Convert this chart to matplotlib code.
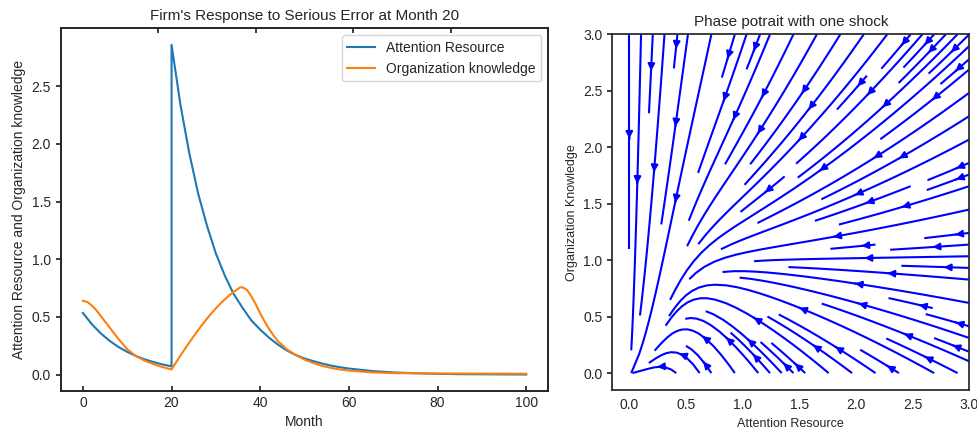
import numpy as np
import matplotlib.pyplot as plt

plt.rcParams['font.family'] = ['Liberation Sans', 'DejaVu Sans']
plt.rcParams['font.size'] = 10
plt.rcParams['text.color'] = '.15'
plt.rcParams['axes.labelcolor'] = '.15'
plt.rcParams['xtick.color'] = '.15'
plt.rcParams['ytick.color'] = '.15'
plt.rcParams['axes.edgecolor'] = '.15'
plt.rcParams['axes.linewidth'] = 1.25

# attention resource path (shock at month 20 gives the vertical jump)
month_attention = [0, 2, 4, 6, 8, 10, 12, 14, 16, 18, 20,
                   20, 22, 24, 26, 28, 30, 32, 34, 36, 38, 40, 42, 44, 46, 48,
                   50, 52, 54, 56, 58, 60, 65, 70, 75, 80, 85, 90, 95, 100]
attention = [0.535, 0.438, 0.359, 0.294, 0.240, 0.197, 0.161, 0.132, 0.108, 0.088, 0.072,
             2.86, 2.34, 1.92, 1.57, 1.29, 1.05, 0.86, 0.70, 0.58, 0.47, 0.39, 0.32, 0.26, 0.21, 0.17,
             0.14, 0.117, 0.096, 0.078, 0.064, 0.053, 0.032, 0.019, 0.012, 0.007, 0.004, 0.003, 0.002, 0.001]

# organization knowledge path
month_knowledge = [0, 1, 2, 3, 4, 5, 6, 7, 8, 10, 12, 14, 16, 18, 20,
                   21, 22, 23, 24, 25, 26, 27, 28, 29, 30, 31, 32, 33, 34, 35, 35.5, 36, 37,
                   38, 39, 40, 41, 42, 43, 44, 46, 48, 50, 52, 54, 56, 58, 60, 65, 70, 80, 90, 100]
knowledge = [0.64, 0.63, 0.60, 0.56, 0.51, 0.46, 0.41, 0.36, 0.31, 0.22, 0.16, 0.12, 0.09, 0.065, 0.045,
             0.105, 0.165, 0.222, 0.278, 0.333, 0.386, 0.437, 0.486, 0.532, 0.575, 0.615, 0.652, 0.687, 0.717, 0.745, 0.757, 0.757, 0.735,
             0.68, 0.61, 0.53, 0.46, 0.395, 0.34, 0.29, 0.22, 0.17, 0.13, 0.10, 0.075, 0.058, 0.045, 0.035, 0.02, 0.013, 0.01, 0.009, 0.008]

# parameters of the attention / knowledge system for the phase portrait
decay_attention = 0.1
rate_knowledge = 0.15
half_point = 0.55
hill_power = 4

fig = plt.figure(figsize=(9.78, 4.32), dpi=100)

ax1 = fig.add_axes([0.0621, 0.0949, 0.4986, 0.8396])
ax1.plot(month_attention, attention, label='Attention Resource', linewidth=1.5)
ax1.plot(month_knowledge, knowledge, label='Organization knowledge', linewidth=1.5)
ax1.set_title("Firm's Response to Serious Error at Month 20", fontsize=11)
ax1.set_xlabel('Month')
ax1.set_ylabel('Attention Resource and Organization knowledge')
ax1.set_yticks([0.0, 0.5, 1.0, 1.5, 2.0, 2.5])
ax1.tick_params(axis='x', direction='in', length=3.5, width=1.25)
ax1.tick_params(axis='y', direction='out', length=3.5, width=1.25)
ax1.legend(loc='upper right', edgecolor='0.8')

top = ax1.twiny()
top.set_xlim(0, 1)
top.set_xticks([0.2, 0.4, 0.6, 0.8])
top.set_xticklabels([])
top.tick_params(axis='x', direction='in', length=3.5, width=1.25)

ax2 = fig.add_axes([0.6261, 0.0972, 0.3650, 0.8234])
xs = np.linspace(0, 3, 100)
ys = np.linspace(0, 3, 100)
X, Y = np.meshgrid(xs, ys)
U = -decay_attention * X
V = rate_knowledge * (X**hill_power / (X**hill_power + half_point**hill_power) - Y)
ax2.streamplot(X, Y, U, V, color='blue', linewidth=1.5)
ax2.set_xlim(-0.15, 3.0)
ax2.set_ylim(-0.15, 3.0)
ax2.set_xticks([0.0, 0.5, 1.0, 1.5, 2.0, 2.5, 3.0])
ax2.set_yticks([0.0, 0.5, 1.0, 1.5, 2.0, 2.5, 3.0])
ax2.tick_params(axis='x', length=0, pad=6)
ax2.tick_params(axis='y', direction='out', length=3.5, width=1.25)
ax2.set_title('Phase potrait with one shock', fontsize=11)
ax2.set_xlabel('Attention Resource', fontsize=9)
ax2.set_ylabel('Organization Knowledge', fontsize=9)

fig.savefig('out.png', dpi=100)
